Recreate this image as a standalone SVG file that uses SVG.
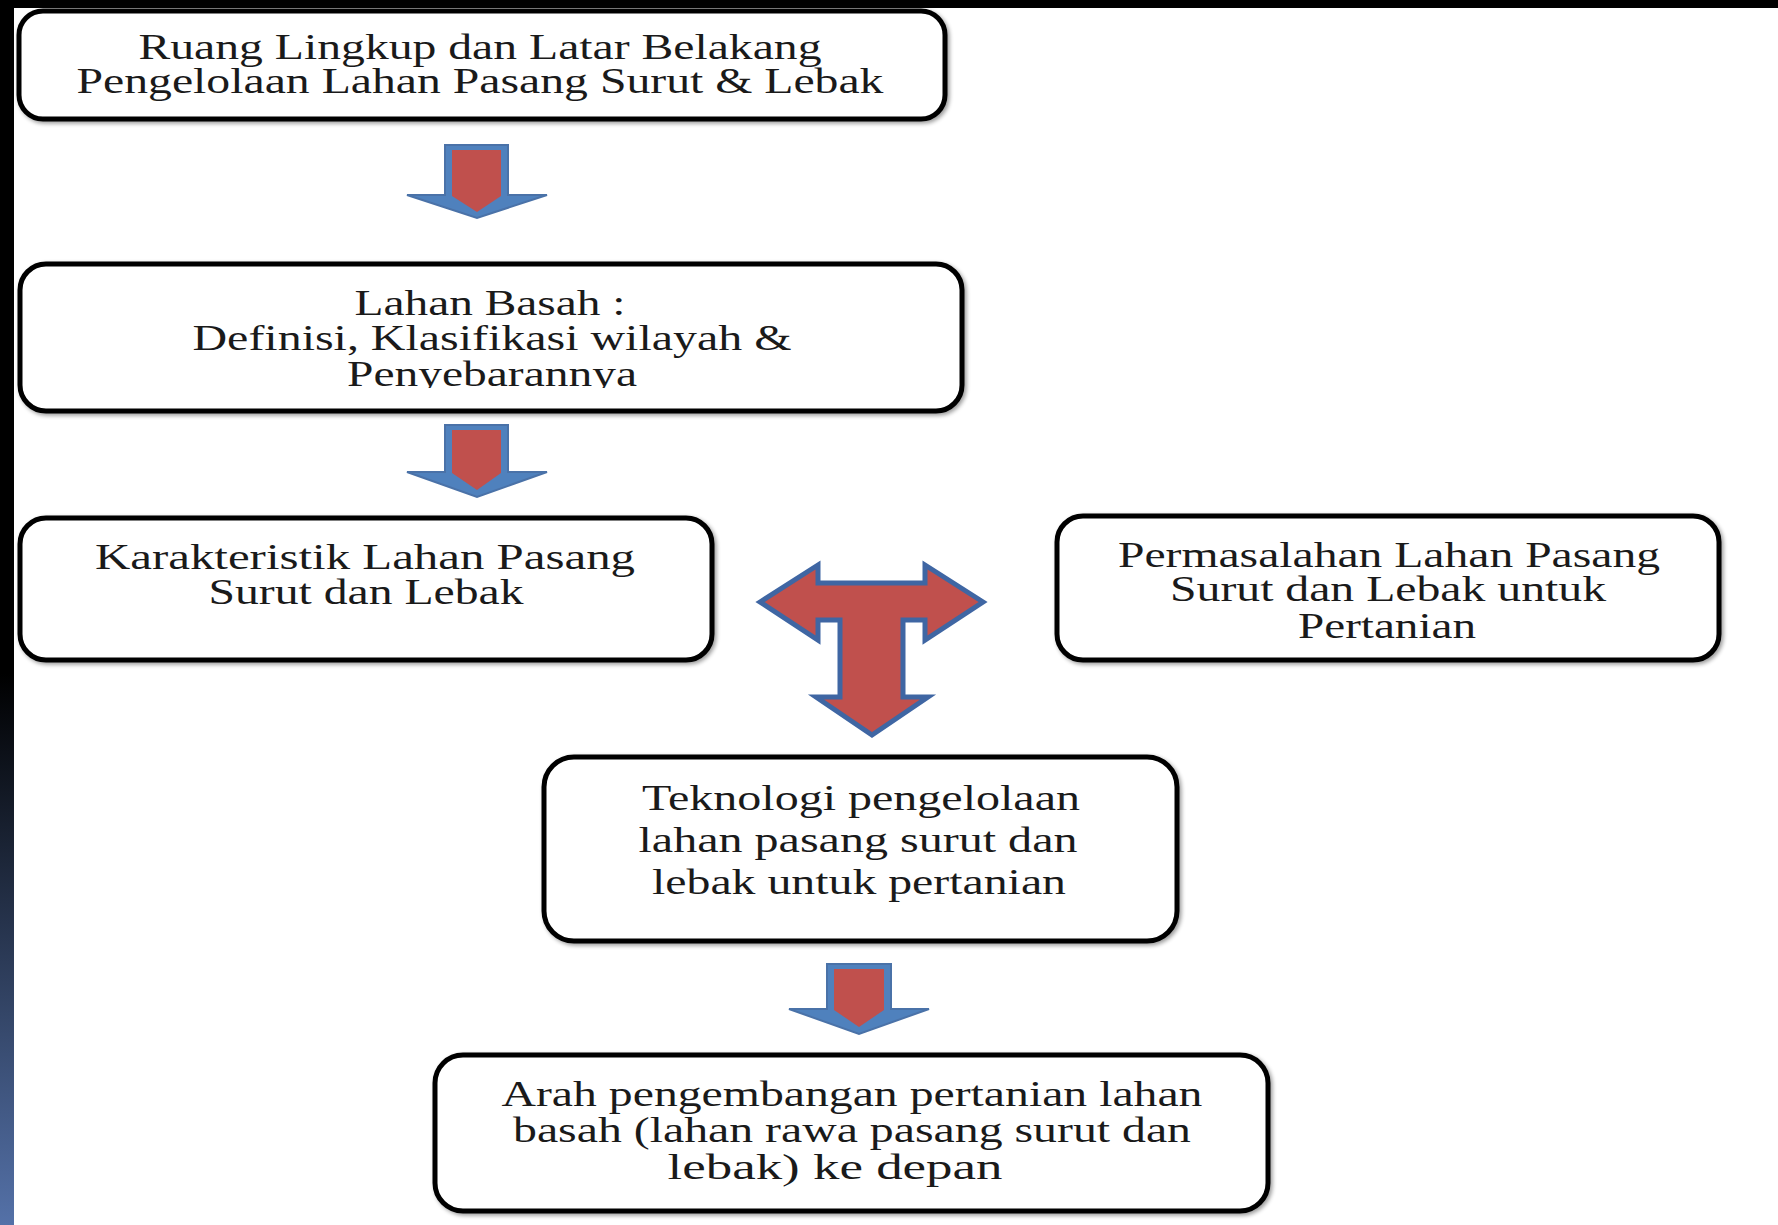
<svg xmlns="http://www.w3.org/2000/svg" width="1778" height="1225" viewBox="0 0 1778 1225">
<defs>
<linearGradient id="side" x1="0" y1="0" x2="0" y2="1">
<stop offset="0" stop-color="#000"/>
<stop offset="0.55" stop-color="#000"/>
<stop offset="1" stop-color="#5471a8"/>
</linearGradient>
<filter id="sh" x="-5%" y="-10%" width="110%" height="120%">
<feGaussianBlur in="SourceAlpha" stdDeviation="2"/>
<feOffset dx="2" dy="2" result="b"/>
<feComponentTransfer><feFuncA type="linear" slope="0.4"/></feComponentTransfer>
<feMerge><feMergeNode/><feMergeNode in="SourceGraphic"/></feMerge>
</filter>
<clipPath id="clip2"><rect x="20" y="264" width="942" height="124"/></clipPath>
</defs>
<style>
.box{fill:#fff;stroke:#000;stroke-width:5;filter:url(#sh)}
.t{font-family:"Liberation Serif","Times New Roman",serif;font-size:35px;fill:#1a1a1a}
.ao{fill:#4f81bd;stroke:#4a72a8;stroke-width:2;stroke-linejoin:miter}
.ai{fill:#c0504d}
.tt{fill:#c0504d;stroke:#3f66a3;stroke-width:5;stroke-linejoin:miter}
</style>
<rect x="0" y="0" width="1778" height="1225" fill="#fff"/>
<rect x="0" y="0" width="1778" height="8" fill="#000"/>
<rect x="0" y="0" width="14" height="1225" fill="url(#side)"/>

<g id="connectors">
<g id="arrow1">
<polygon class="ao" points="445,145 508,145 508,195 547,195 477,218 407,195 445,195"/>
<polygon class="ai" points="452,150 501,150 501,196 477,212 452,196"/>
</g>
<g id="arrow2">
<polygon class="ao" points="445,425 508,425 508,472 547,472 477,497 407,472 445,472"/>
<polygon class="ai" points="452,430 501,430 501,473 477,490 452,473"/>
</g>
<g id="arrow3">
<polygon class="ao" points="827,964 891,964 891,1009 929,1009 859,1034 789,1009 827,1009"/>
<polygon class="ai" points="834,969 884,969 884,1010 859,1027 834,1010"/>
</g>
<g id="tarrow">
<polygon class="tt" points="760,602 818,565 818,583 925,583 925,565 983,602 925,640 925,620 903,620 903,697 928,697 872,735 816,697 840,697 840,620 818,620 818,640"/>
</g>
</g>

<g id="node1">
<rect class="box" x="19" y="11" width="926" height="108" rx="24"/>
<text class="t" x="480" y="59" text-anchor="middle" textLength="683" lengthAdjust="spacingAndGlyphs">Ruang Lingkup dan Latar Belakang</text>
<text class="t" x="480" y="93" text-anchor="middle" textLength="807" lengthAdjust="spacingAndGlyphs">Pengelolaan Lahan Pasang Surut &amp; Lebak</text>
</g>

<g id="node2">
<rect class="box" x="20" y="264" width="942" height="147" rx="26"/>
<text class="t" x="490" y="315" text-anchor="middle" textLength="271" lengthAdjust="spacingAndGlyphs">Lahan Basah :</text>
<text class="t" x="492" y="350" text-anchor="middle" textLength="599" lengthAdjust="spacingAndGlyphs">Definisi, Klasifikasi wilayah &amp;</text>
<text class="t" x="492" y="386" text-anchor="middle" textLength="290" lengthAdjust="spacingAndGlyphs" clip-path="url(#clip2)">Penyebarannya</text>
</g>

<g id="node3">
<rect class="box" x="20" y="518" width="692" height="142" rx="26"/>
<text class="t" x="365" y="569" text-anchor="middle" textLength="540" lengthAdjust="spacingAndGlyphs">Karakteristik  Lahan Pasang</text>
<text class="t" x="366" y="604" text-anchor="middle" textLength="315" lengthAdjust="spacingAndGlyphs">Surut dan Lebak</text>
</g>

<g id="node4">
<rect class="box" x="1057" y="516" width="662" height="144" rx="26"/>
<text class="t" x="1389" y="567" text-anchor="middle" textLength="542" lengthAdjust="spacingAndGlyphs">Permasalahan Lahan Pasang</text>
<text class="t" x="1388" y="601" text-anchor="middle" textLength="436" lengthAdjust="spacingAndGlyphs">Surut dan Lebak untuk</text>
<text class="t" x="1387" y="638" text-anchor="middle" textLength="178" lengthAdjust="spacingAndGlyphs">Pertanian</text>
</g>

<g id="node5">
<rect class="box" x="544" y="757" width="633" height="184" rx="30"/>
<text class="t" x="861" y="810" text-anchor="middle" textLength="438" lengthAdjust="spacingAndGlyphs">Teknologi pengelolaan</text>
<text class="t" x="858" y="852" text-anchor="middle" textLength="439" lengthAdjust="spacingAndGlyphs">lahan pasang surut dan</text>
<text class="t" x="859" y="894" text-anchor="middle" textLength="414" lengthAdjust="spacingAndGlyphs">lebak untuk pertanian</text>
</g>

<g id="node6">
<rect class="box" x="435" y="1055" width="833" height="156" rx="28"/>
<text class="t" x="852" y="1106" text-anchor="middle" textLength="701" lengthAdjust="spacingAndGlyphs">Arah pengembangan pertanian lahan</text>
<text class="t" x="852" y="1142" text-anchor="middle" textLength="678" lengthAdjust="spacingAndGlyphs">basah (lahan rawa pasang surut dan</text>
<text class="t" x="835" y="1179" text-anchor="middle" textLength="335" lengthAdjust="spacingAndGlyphs">lebak) ke depan</text>
</g>
</svg>
